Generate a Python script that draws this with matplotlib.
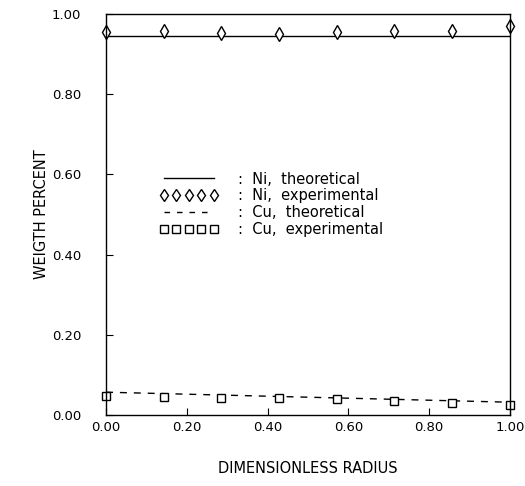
import matplotlib
matplotlib.use("Agg")
import matplotlib.pyplot as plt
from matplotlib.lines import Line2D

# Data
radius = [0.0, 1/7, 2/7, 3/7, 4/7, 5/7, 6/7, 1.0]
ni_theory_x = [0.0, 1.0]
ni_theory_y = [0.946, 0.946]
ni_exp = [0.955, 0.957, 0.952, 0.950, 0.955, 0.957, 0.957, 0.970]
cu_theory_x = [0.0, 1.0]
cu_theory_y = [0.057, 0.032]
cu_exp = [0.047, 0.044, 0.043, 0.043, 0.039, 0.034, 0.030, 0.025]
ticks = [0.0, 0.2, 0.4, 0.6, 0.8, 1.0]
tick_labels = ["0.00", "0.20", "0.40", "0.60", "0.80", "1.00"]

plt.rcParams['font.family'] = ['DejaVu Sans']
fig = plt.figure(figsize=(5.25, 4.86), dpi=100)
ax = fig.add_axes([0.202, 0.146, 0.769, 0.825])

ax.plot(ni_theory_x, ni_theory_y, color='black', lw=1.0)
ax.plot(radius, ni_exp, linestyle='none', marker='d', markersize=7,
        markerfacecolor='white', markeredgecolor='black', markeredgewidth=1.0, clip_on=False)
ax.plot(cu_theory_x, cu_theory_y, color='black', lw=1.0, dashes=(5, 5))
ax.plot(radius, cu_exp, linestyle='none', marker='s', markersize=6,
        markerfacecolor='white', markeredgecolor='black', markeredgewidth=1.0, clip_on=False)

ax.set_xlim(0, 1)
ax.set_ylim(0, 1)
ax.set_xticks(ticks)
ax.set_xticklabels(tick_labels)
ax.set_yticks(ticks)
ax.set_yticklabels(tick_labels)
ax.tick_params(direction='in', length=5, width=0.8, labelsize=9.5)
ax.tick_params(axis='x', pad=4)
ax.tick_params(axis='y', pad=18)
for s in ax.spines.values():
    s.set_linewidth(1.0)

ax.set_xlabel("DIMENSIONLESS RADIUS", fontsize=10.5, labelpad=20)
ax.set_ylabel("WEIGTH PERCENT", fontsize=10.5, labelpad=2)

handles = [
    Line2D([], [], color='black', lw=1.0),
    Line2D([], [], linestyle='none', marker='d', markersize=6.5, markerfacecolor='white',
           markeredgecolor='black', markeredgewidth=1.0),
    Line2D([], [], color='black', lw=1.0, dashes=(4, 5)),
    Line2D([], [], linestyle='none', marker='s', markersize=5.5, markerfacecolor='white',
           markeredgecolor='black', markeredgewidth=1.0),
]
labels = [":  Ni,  theoretical", ":  Ni,  experimental", ":  Cu,  theoretical", ":  Cu,  experimental"]
ax.legend(handles, labels, loc='upper left', bbox_to_anchor=(0.10, 0.64), frameon=False,
          numpoints=5, handlelength=4.0, handletextpad=1.4, labelspacing=0.12, fontsize=10.5)

fig.savefig("out.png", dpi=100)
